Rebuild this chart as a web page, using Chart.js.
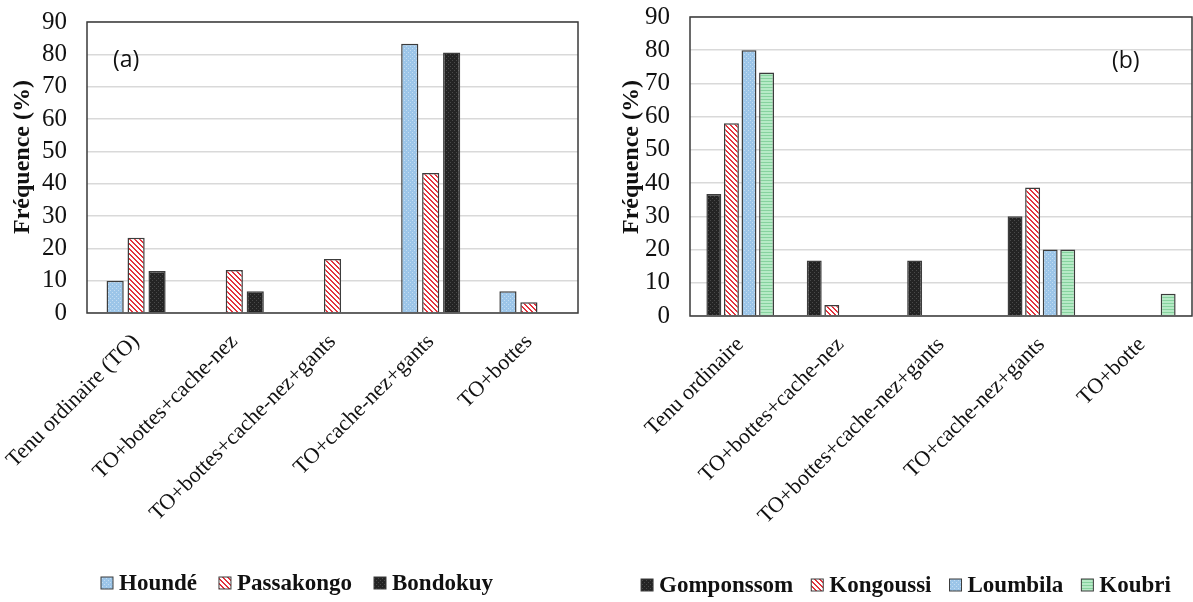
<!DOCTYPE html>
<html>
<head>
<meta charset="utf-8">
<script src="https://cdn.jsdelivr.net/npm/chart.js@4"></script>
<style>
  html, body { margin: 0; padding: 0; background: #fff; }
  #wrapA { position: absolute; left: 0; top: 0; width: 590px; height: 602px; }
  #wrapB { position: absolute; left: 590px; top: 0; width: 603px; height: 602px; }
</style>
</head>
<body>
<div id="wrapA"><canvas id="chartA"></canvas></div>
<div id="wrapB"><canvas id="chartB"></canvas></div>
<script>
// (a) data
const categoriesA = ['Tenu ordinaire (TO)', 'TO+bottes+cache-nez', 'TO+bottes+cache-nez+gants', 'TO+cache-nez+gants', 'TO+bottes'];
const houndeValues = [10, 0, 0, 83.3, 6.7];
const passakongoValues = [23.3, 13.3, 16.7, 43.3, 3.3];
const bondokuyValues = [13, 6.7, 0, 80.6, 0];

// (b) data
const categoriesB = ['Tenu ordinaire', 'TO+bottes+cache-nez', 'TO+bottes+cache-nez+gants', 'TO+cache-nez+gants', 'TO+botte'];
const gomponssomValues = [36.7, 16.7, 16.7, 30, 0];
const kongoussiValues = [58, 3.3, 0, 38.7, 0];
const loumbilaValues = [80, 0, 0, 20, 0];
const koubriValues = [73.3, 0, 0, 20, 6.7];

const yTicks = [0, 10, 20, 30, 40, 50, 60, 70, 80, 90];
const yTitle = 'Fréquence (%)';

const serif = "'Liberation Serif', 'Times New Roman', serif";

function makePattern(size, draw) {
  const c = document.createElement('canvas');
  c.width = size; c.height = size;
  const g = c.getContext('2d');
  draw(g, size);
  return g.createPattern(c, 'repeat');
}

const bluePattern = makePattern(4, (g, s) => {
  g.fillStyle = '#9cc5e8'; g.fillRect(0, 0, s, s);
  g.fillStyle = '#c4ddf2';
  g.fillRect(0, 0, 1, 1); g.fillRect(2, 2, 1, 1);
});
const redPattern = makePattern(5, (g, s) => {
  g.fillStyle = '#ffffff'; g.fillRect(0, 0, s, s);
  g.fillStyle = '#e2333d';
  for (let y = 0; y < s; y++) {
    for (let x = 0; x < s; x++) {
      const d = ((x - y) % s + s) % s;
      if (d === 0 || d === 1) g.fillRect(x, y, 1, 1);
    }
  }
});
const darkPattern = makePattern(4, (g, s) => {
  g.fillStyle = '#242424'; g.fillRect(0, 0, s, s);
  g.fillStyle = '#4a4a4a';
  g.fillRect(0, 0, 1, 1); g.fillRect(2, 2, 1, 1);
});
const greenPattern = makePattern(3, (g, s) => {
  g.fillStyle = '#b6eac6'; g.fillRect(0, 0, s, s);
  g.fillStyle = '#86d29e'; g.fillRect(0, 0, s, 1);
});

// plot frame, axis title, panel tag and the bottom legend
const frame = {
  id: 'frame',
  afterDraw(chart, args, opts) {
    const { ctx, chartArea: a } = chart;
    ctx.save();
    ctx.strokeStyle = '#3a3a3a';
    ctx.lineWidth = 1.5;
    ctx.strokeRect(a.left, a.top, a.right - a.left, a.bottom - a.top);

    ctx.fillStyle = '#111';
    ctx.save();
    ctx.translate(opts.titleX, opts.titleY);
    ctx.rotate(-Math.PI / 2);
    ctx.font = 'bold 24px ' + serif;
    ctx.textAlign = 'center';
    ctx.textBaseline = 'middle';
    ctx.fillText(yTitle, 0, 0);
    ctx.restore();

    ctx.font = "23px 'Open Sans', sans-serif";
    ctx.textBaseline = 'alphabetic';
    ctx.fillText(opts.tag, a.left + opts.dx, a.top + opts.dy);

    // legend
    const box = 12, boxGap = 6;
    ctx.font = 'bold 23px ' + serif;
    ctx.textBaseline = 'middle';
    const items = chart.data.datasets.map(d => ({ d, w: ctx.measureText(d.label).width }));
    const total = items.reduce((s, it) => s + box + boxGap + it.w, 0) + opts.itemGap * (items.length - 1);
    let x = opts.legendX - total / 2;
    items.forEach(it => {
      ctx.fillStyle = it.d.backgroundColor;
      ctx.fillRect(x, opts.legendY - box / 2, box, box);
      ctx.strokeStyle = '#3c3c3c';
      ctx.lineWidth = 1;
      ctx.strokeRect(x, opts.legendY - box / 2, box, box);
      ctx.fillStyle = '#111';
      ctx.fillText(it.d.label, x + box + boxGap, opts.legendY + 1);
      x += box + boxGap + it.w + opts.itemGap;
    });
    ctx.restore();
  }
};

function bar(label, values, pattern) {
  return {
    label: label,
    data: values,
    backgroundColor: pattern,
    borderColor: '#3c3c3c',
    borderWidth: c => (c.raw ? 1.5 : 0),
  };
}

function options(yWidth, xHeight, pad, tag) {
  return {
    responsive: true,
    maintainAspectRatio: false,
    animation: false,
    layout: { padding: pad },
    scales: {
      x: {
        grid: { display: false },
        border: { display: false },
        afterFit: s => { s.height = xHeight; s.paddingLeft = 0; s.paddingRight = 0; },
        ticks: {
          autoSkip: false,
          maxRotation: 45,
          minRotation: 45,
          padding: 8,
          color: '#111',
          font: { family: serif, size: 22 },
        },
      },
      y: {
        min: 0,
        max: 90,
        afterBuildTicks: s => { s.ticks = yTicks.map(v => ({ value: v })); },
        afterFit: s => { s.width = yWidth; s.paddingTop = 0; s.paddingBottom = 0; },
        grid: { color: '#d9d9d9', lineWidth: 1.5, drawTicks: false },
        border: { display: false },
        ticks: { autoSkip: false, padding: 20, color: '#111', font: { family: serif, size: 25 } },
      },
    },
    plugins: {
      legend: { display: false },
      tooltip: { enabled: false },
      frame: tag,
    },
  };
}

const chartA = new Chart(document.getElementById('chartA'), {
  type: 'bar',
  data: {
    labels: categoriesA,
    datasets: [
      bar('Houndé', houndeValues, bluePattern),
      bar('Passakongo', passakongoValues, redPattern),
      bar('Bondokuy', bondokuyValues, darkPattern),
    ].map(d => Object.assign(d, { categoryPercentage: 0.64, barPercentage: 0.82 })),
  },
  options: options(87, 289, { top: 22, right: 12, bottom: 0, left: 0 },
    { tag: '(a)', dx: 26, dy: 45, titleX: 23, titleY: 157, legendX: 297, legendY: 583, itemGap: 22 }),
  plugins: [frame],
});

const chartB = new Chart(document.getElementById('chartB'), {
  type: 'bar',
  data: {
    labels: categoriesB,
    datasets: [
      bar('Gomponssom', gomponssomValues, darkPattern),
      bar('Kongoussi', kongoussiValues, redPattern),
      bar('Loumbila', loumbilaValues, bluePattern),
      bar('Koubri', koubriValues, greenPattern),
    ].map(d => Object.assign(d, { categoryPercentage: 0.7, barPercentage: 0.85 })),
  },
  options: options(100, 286, { top: 17, right: 1, bottom: 0, left: 0 },
    { tag: '(b)', dx: 422, dy: 51, titleX: 42, titleY: 157, legendX: 316, legendY: 585, itemGap: 18 }),
  plugins: [frame],
});
</script>
</body>
</html>
